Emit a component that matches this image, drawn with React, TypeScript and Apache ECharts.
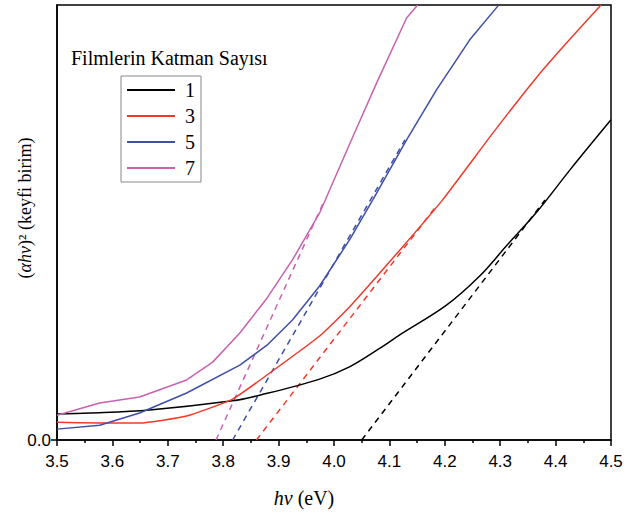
import React, { useEffect, useRef } from "react";
import * as echarts from "echarts";

const seriesNames = ["1", "3", "5", "7"];
const colors = ["#000000", "#F23A2A", "#3F4FA8", "#C862B0"];

const curve1: [number, number][] = [
  [3.5, 0.06], [3.559, 0.062], [3.667, 0.069], [3.817, 0.09], [3.866, 0.103],
  [3.974, 0.14], [4.028, 0.168], [4.083, 0.211], [4.118, 0.241], [4.203, 0.31],
  [4.263, 0.377], [4.311, 0.446], [4.366, 0.524], [4.426, 0.621], [4.5, 0.736],
];
const curve3: [number, number][] = [
  [3.5, 0.041], [3.577, 0.039], [3.649, 0.039], [3.734, 0.055], [3.817, 0.094],
  [3.884, 0.154], [3.974, 0.239], [4.028, 0.306], [4.119, 0.437], [4.196, 0.552],
  [4.287, 0.706], [4.366, 0.834], [4.42, 0.913], [4.482, 1.0],
];
const curve5: [number, number][] = [
  [3.5, 0.025], [3.577, 0.034], [3.649, 0.062], [3.734, 0.108], [3.83, 0.172],
  [3.879, 0.218], [3.925, 0.276], [3.974, 0.354], [4.028, 0.46], [4.07, 0.552],
  [4.131, 0.69], [4.185, 0.805], [4.245, 0.92], [4.296, 0.998],
];
const curve7: [number, number][] = [
  [3.5, 0.057], [3.577, 0.085], [3.649, 0.099], [3.734, 0.138], [3.781, 0.179],
  [3.83, 0.246], [3.879, 0.326], [3.925, 0.414], [3.974, 0.522], [4.034, 0.697],
  [4.077, 0.821], [4.131, 0.97], [4.151, 1.0],
];

const fit1: [number, number][] = [[4.05, 0], [4.381, 0.552]];
const fit3: [number, number][] = [[3.86, 0], [4.186, 0.54]];
const fit5: [number, number][] = [[3.817, 0], [4.128, 0.69]];
const fit7: [number, number][] = [[3.787, 0], [3.983, 0.552]];

const curves = [curve1, curve3, curve5, curve7];
const fits = [fit1, fit3, fit5, fit7];
const smoothing = [0.35, 0.15, 0, 0];

const legendTitle = "Filmlerin Katman Sayısı";

export default function App() {
  const ref = useRef<HTMLDivElement>(null);
  useEffect(() => {
    if (!ref.current) return;
    const chart = echarts.init(ref.current, undefined, { renderer: "svg" });
    const serif = "Liberation Serif";
    const sans = "Liberation Sans";
    const series: any[] = [];
    curves.forEach((c, i) => {
      series.push({
        name: seriesNames[i],
        type: "line",
        data: c,
        symbol: "none",
        smooth: smoothing[i],
        lineStyle: { color: colors[i], width: 1.5 },
        itemStyle: { color: colors[i] },
        z: 3,
      });
    });
    fits.forEach((f, i) => {
      series.push({
        name: "fit" + seriesNames[i],
        type: "line",
        data: f,
        symbol: "none",
        lineStyle: { color: colors[i], width: 1.5, type: [6, 5] },
        z: 2,
      });
    });
    chart.setOption({
      animation: false,
      backgroundColor: "#ffffff",
      title: {
        text: legendTitle,
        left: 71,
        top: 48,
        padding: 0,
        textStyle: { fontFamily: serif, fontSize: 20, fontWeight: "normal", color: "#000" },
      },
      legend: {
        data: seriesNames,
        orient: "vertical",
        left: 121,
        top: 76,
        padding: [4, 6, 4, 6],
        icon: "rect",
        itemWidth: 48,
        itemHeight: 2,
        itemGap: 6,
        borderColor: "#888",
        borderWidth: 1,
        textStyle: { fontFamily: serif, fontSize: 20, color: "#000", lineHeight: 20, padding: [0, 0, 0, 5] },
      },
      grid: {
        left: 57,
        right: 24,
        top: 5,
        bottom: 72,
        show: true,
        borderColor: "#000",
        borderWidth: 1.5,
        containLabel: false,
      },
      xAxis: {
        type: "value",
        min: 3.5,
        max: 4.5,
        interval: 0.1,
        axisLine: { show: true, lineStyle: { color: "#000", width: 1.5 } },
        axisTick: { show: true, length: 6, lineStyle: { color: "#000", width: 1.5 } },
        minorTick: { show: true, splitNumber: 2, length: 3, lineStyle: { color: "#000", width: 1.5 } },
        splitLine: { show: false },
        axisLabel: {
          margin: 13,
          fontFamily: sans,
          fontSize: 17,
          color: "#000",
          formatter: (v: number) => v.toFixed(1),
        },
      },
      yAxis: {
        type: "value",
        min: 0,
        max: 1,
        axisLine: { show: true, lineStyle: { color: "#000", width: 1.5 } },
        axisTick: { show: true, length: 6, customValues: [0], lineStyle: { color: "#000", width: 1.5 } },
        splitLine: { show: false },
        axisLabel: {
          customValues: [0],
          margin: 6,
          fontFamily: sans,
          fontSize: 17,
          color: "#000",
          formatter: (v: number) => v.toFixed(1),
        },
      },
      graphic: [
        {
          type: "text",
          x: 25,
          y: 208,
          rotation: Math.PI / 2,
          style: {
            text: "{a|(}{i|αhv}{a|)² (keyfi birim)}",
            rich: {
              a: { fontFamily: serif, fontSize: 18, fill: "#000" },
              i: { fontFamily: serif, fontSize: 18, fontStyle: "italic", fill: "#000" },
            },
            align: "center",
            verticalAlign: "middle",
          },
        },
        {
          type: "text",
          x: 304,
          y: 498,
          style: {
            text: "{i|hv}{a| (eV)}",
            rich: {
              a: { fontFamily: serif, fontSize: 20, fill: "#000" },
              i: { fontFamily: serif, fontSize: 20, fontStyle: "italic", fill: "#000" },
            },
            align: "center",
            verticalAlign: "middle",
          },
        },
      ],
      series,
    });
    return () => chart.dispose();
  }, []);
  return <div ref={ref} style={{ width: 635, height: 512, position: "absolute", left: 0, top: 0 }} />;
}
